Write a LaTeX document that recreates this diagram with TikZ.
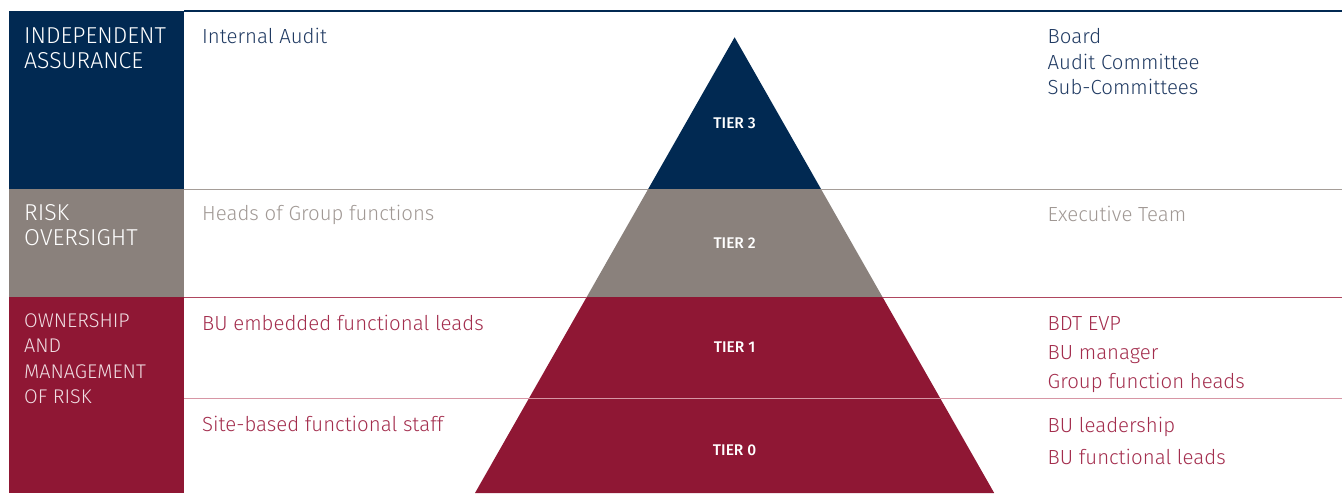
\documentclass[tikz,border=0pt]{standalone}
\usepackage{fontspec}
\setmainfont{Fira Sans Light}
\newfontfamily\tierfont{Fira Sans Medium}
\definecolor{navy}{RGB}{1,41,82}
\definecolor{stone}{RGB}{138,129,124}
\definecolor{wine}{RGB}{143,23,52}
\definecolor{navytext}{RGB}{32,58,98}
\definecolor{stonetext}{RGB}{160,152,148}
\definecolor{winetext}{RGB}{163,45,77}
\definecolor{stoneline}{RGB}{165,157,152}
\definecolor{wineline}{RGB}{175,70,95}
\definecolor{paleline}{RGB}{215,150,165}
\definecolor{palelabel}{RGB}{240,222,227}
\tikzset{
  band/.style={inner sep=0pt, outer sep=0pt, anchor=north west},
  head/.style={anchor=base west, inner sep=0pt, text=white, font=\fontsize{23}{25}\selectfont},
  headsmall/.style={anchor=base west, inner sep=0pt, text=palelabel, font=\fontsize{19.8}{25}\selectfont},
  item/.style={anchor=base west, inner sep=0pt, font=\fontsize{20.4}{25}\selectfont},
  tier/.style={anchor=center, inner sep=0pt, text=white, font=\tierfont\fontsize{15.5}{17}\selectfont},
}
\begin{document}
\begin{tikzpicture}[x=1pt,y=-1pt]
\useasboundingbox (0,0) rectangle (1342,493);

% left-hand category blocks
\node[band, fill=navy,  minimum width=175pt, minimum height=178pt] (bIA) at (9,11) {};
\node[band, fill=stone, minimum width=175pt, minimum height=108pt] (bRO) at (9,189) {};
\node[band, fill=wine,  minimum width=175pt, minimum height=196pt] (bOM) at (9,297) {};

% pyramid: apex (734.6,37.3), half width grows 0.5697 per unit height
\fill[navy]  (734.6,37.3) -- (821.0,189) -- (648.2,189) -- cycle;
\fill[stone] (648.2,189) -- (821.0,189) -- (882.5,297) -- (586.7,297) -- cycle;
\fill[wine]  (586.7,297) -- (882.5,297) -- (994.2,493) -- (475.0,493) -- cycle;

% horizontal row separators
\draw[navy, line width=1.2pt] (184,11) -- (1342,11);
\draw[stoneline, line width=1pt] (184,189) -- (648.2,189) (821.0,189) -- (1342,189);
\draw[wineline, line width=1pt] (184,297.5) -- (586.7,297.5) (882.5,297.5) -- (1342,297.5);
\draw[paleline, line width=1pt] (184,398) -- (1342,398);

% tier labels
\node[tier] (t3) at (734.6,122.8) {TIER 3};
\node[tier] (t2) at (734.6,243)   {TIER 2};
\node[tier] (t1) at (734.6,347.5) {TIER 1};
\node[tier] (t0) at (734.6,450.5) {TIER 0};

% category headings
\node[head] (h1a) at (24,43.5) {INDEPENDENT};
\node[head] (h1b) at (24,68.5) {ASSURANCE};
\node[head] (h2a) at (24,220)  {RISK};
\node[head] (h2b) at (24,245)  {OVERSIGHT};
\node[headsmall] (h3a) at (24,327) {OWNERSHIP};
\node[headsmall] (h3b) at (24,352) {AND};
\node[headsmall] (h3c) at (24,378) {MANAGEMENT};
\node[headsmall] (h3d) at (24,403) {OF RISK};

% functions
\node[item, text=navytext]  (f3) at (202,43)    {Internal Audit};
\node[item, text=stonetext] (f2) at (202,220.5) {Heads of Group functions};
\node[item, text=winetext]  (f1) at (202,330)   {BU embedded functional leads};
\node[item, text=winetext]  (f0) at (202,431)   {Site-based functional staff};

% governing bodies
\node[item, text=navytext]  (g3a) at (1047.5,43.5) {Board};
\node[item, text=navytext]  (g3b) at (1047.5,69)   {Audit Committee};
\node[item, text=navytext]  (g3c) at (1047.5,94.5) {Sub-Committees};
\node[item, text=stonetext] (g2)  at (1047.5,221)  {Executive Team};
\node[item, text=winetext]  (g1a) at (1047.5,330)  {BDT EVP};
\node[item, text=winetext]  (g1b) at (1047.5,359)  {BU manager};
\node[item, text=winetext]  (g1c) at (1047.5,388)  {Group function heads};
\node[item, text=winetext]  (g0a) at (1047.5,432)  {BU leadership};
\node[item, text=winetext]  (g0b) at (1047.5,464)  {BU functional leads};
\end{tikzpicture}
\end{document}
